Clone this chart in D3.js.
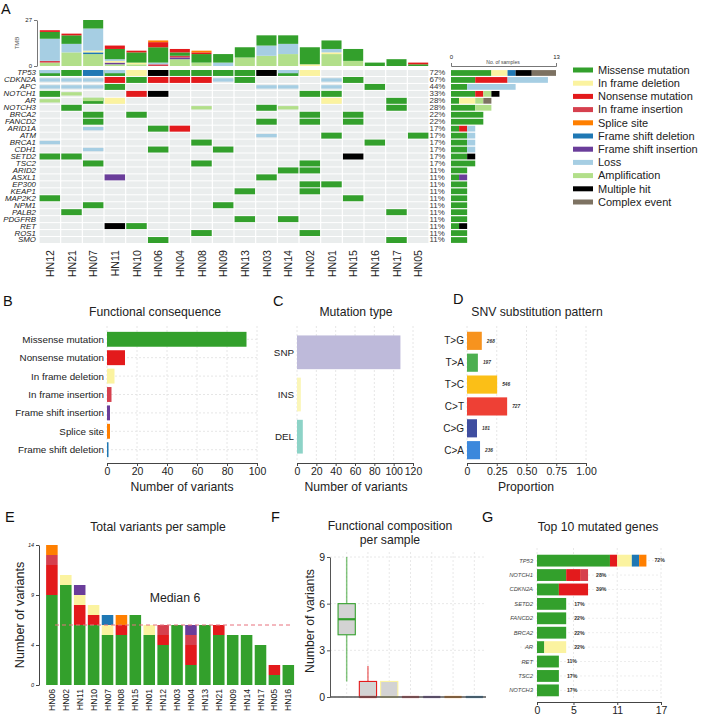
<!DOCTYPE html>
<html><head><meta charset="utf-8">
<script src="https://cdn.jsdelivr.net/npm/d3@7"></script>
<style>
body{margin:0;background:#fff}
svg{display:block}
text{font-family:"Liberation Sans",Arial,Helvetica,sans-serif}
</style>
</head><body>
<svg id="c" width="709" height="723"></svg>
<script>
// ---------------- DATA ----------------
const typeNames = ["Missense mutation","In frame deletion","Nonsense mutation","In frame insertion","Splice site","Frame shift deletion","Frame shift insertion","Loss","Amplification","Multiple hit","Complex event"];
const typeCodes = ["M","D","N","I","S","F","P","L","A","X","C"];
const typeColors = ["#33a02c","#fbf3a0","#e31a1c","#d6404e","#ff7f00","#1f78b4","#6a3d9a","#a6cee3","#b2df8a","#000000","#7d7262"];

// Panel A
const samplesA = ["HN12","HN21","HN07","HN11","HN10","HN06","HN04","HN08","HN09","HN13","HN03","HN14","HN02","HN01","HN15","HN16","HN17","HN05"];
const genesA = ["TP53","CDKN2A","APC","NOTCH1","AR","NOTCH3","BRCA2","FANCD2","ARID1A","ATM","BRCA1","CDH1","SETD2","TSC2","ARID2","ASXL1","EP300","KEAP1","MAP2K2","NPM1","PALB2","PDGFRB","RET","ROS1","SMO"];
const genePct = ["72%","67%","44%","33%","28%","28%","22%","22%","17%","17%","17%","17%","17%","17%","11%","11%","11%","11%","11%","11%","11%","11%","11%","11%","11%"];
const oncoMatrix = [
  "C M F C D X M M M M X C D . . . . .",
  "L L L N M N N N L M . . . L M . . .",
  "L L L M . . . . . . L L . L . M . .",
  "M A . . N X . . . . . . M M . . . .",
  "A . C D . . . . . . . . . D . . M .",
  ". M . . . . . A . . M A . . . . M .",
  ". . M . M . . . . . . . M . M . . .",
  ". . M . . . . . . . M . M . M . . .",
  ". . L . . M N . . . . . . . . . . .",
  ". . . . . . . . . . L . . M . . . M",
  "L . . . . . . M . . . . . . . M . .",
  ". . L . . M . . M . . . . . . . . .",
  "M M . . . . . . . . . . . . X . . .",
  ". . M . . . . M . . . . M . . . . .",
  ". . . . . . . . . . . M M . . . . .",
  ". . . P . . . . . . M . . . . . . .",
  ". . . . . . . . . . . . M M . . . .",
  ". . . . . . . . . M . . M . . . . .",
  "M . . . . . . . . . . . . . M . . .",
  ". . M . . . . . M . . . . . . . . .",
  ". M . . . . . . . . . . . . . . M .",
  ". . . . . . . . . M . M . . . . . .",
  ". . . X M . . . . . . . . . . . . .",
  ". . . . . . . M . . . . M . . . . .",
  ". . . . . M . . . . . . . . . . M ."
];
const tmbKeys = ["Amplification","Frame shift insertion","Frame shift deletion","In frame insertion","In frame deletion","Loss","Missense mutation","Nonsense mutation","Splice site"];
const tmbAmp    = [2,8,7,1,1,0,4,2,0,5,6,7,0,7,3,0,0,0];
const tmbFSI    = [0,0,0,1,0,0,1,0,0,0,0,0,0,0,0,0,0,0];
const tmbFSD    = [0,0,1,0,0,0,0,0,0,0,0,0,0,0,0,0,0,0];
const tmbIFI    = [1,0,0,0,0,1,1,0,0,0,0,0,0,0,0,0,0,0];
const tmbIFD    = [0,0,1,1,1,0,0,0,0,0,0,0,1,1,0,0,0,0];
const tmbLoss   = [13,5,13,1,0,1,0,0,2,0,6,6,0,2,0,0,0,0];
const tmbMis    = [4,5,5,6,6,9,2,5,5,6,6,5,10,5,7,2,4,1];
const tmbNon    = [1,1,0,2,1,3,2,1,0,0,0,0,0,0,0,0,0,1];
const tmbSplice = [0,0,0,0,0,1,0,1,0,0,0,0,0,0,0,0,0,0];
const tmbTicks = [0,27];
const sampleTicks = [0,13];

// Panel B
const funcCats = ["Missense mutation","Nonsense mutation","In frame deletion","In frame insertion","Frame shift insertion","Splice site","Frame shift deletion"];
const funcCounts = [93,12,5,3,2,2,1];
const funcTicks = [0,20,40,60,80,100];

// Panel C
const mutTypes = ["SNP","INS","DEL"];
const mutCounts = [107,4,6];
const mutColors = ["#bebada","#fbf6b8","#8dd3c7"];
const mutTicks = [0,20,40,60,80,100,120];

// Panel D
const snvClasses = ["T>G","T>A","T>C","C>T","C>G","C>A"];
const snvCounts = [268,197,546,727,181,236];
const snvColors = ["#f7931e","#4caf50","#fbbf17","#ee4035","#3f4ea0","#3c88dc"];
const propTicks = [0,0.25,0.5,0.75,1];

// Panel E
const samplesE = ["HN06","HN02","HN11","HN10","HN07","HN08","HN15","HN01","HN12","HN03","HN04","HN13","HN21","HN09","HN14","HN17","HN05","HN16"];
const eKeys = ["Missense mutation","Nonsense mutation","In frame insertion","In frame deletion","Frame shift deletion","Frame shift insertion","Splice site"];
const eMis    = [9,10,6,6,5,5,7,5,4,6,2,6,5,5,5,4,1,2];
const eNon    = [3,0,2,1,0,1,0,0,1,0,2,0,1,0,0,0,1,0];
const eIFI    = [1,0,0,0,0,0,0,0,1,0,1,0,0,0,0,0,0,0];
const eIFD    = [0,1,1,1,1,0,0,1,0,0,0,0,0,0,0,0,0,0];
const eFSD    = [0,0,0,0,1,0,0,0,0,0,0,0,0,0,0,0,0,0];
const eFSI    = [0,0,1,0,0,0,0,0,0,0,1,0,0,0,0,0,0,0];
const eSplice = [1,0,0,0,0,1,0,0,0,0,0,0,0,0,0,0,0,0];
const eTicks = [0,4,9,14];
const eMedian = 6;

// Panel F
const fCats = ["Missense mutation","Nonsense mutation","In frame deletion","In frame insertion","Frame shift insertion","Splice site","Frame shift deletion"];
const fMin = [1,0,0,0,0,0,0];
const fQ1  = [4,0,0,0,0,0,0];
const fMed = [5,0,0,0,0,0,0];
const fQ3  = [6,1,1,0,0,0,0];
const fMax = [9,2,1,0,0,0,0];
const fTicks = [0,3,6,9];

// Panel G
const gGenes = ["TP53","NOTCH1","CDKN2A","SETD2","FANCD2","BRCA2","AR","RET","TSC2","NOTCH3"];
const gKeys = ["Missense mutation","Nonsense mutation","In frame insertion","In frame deletion","Frame shift deletion","Splice site"];
const gMis    = [10,4,3,4,4,4,1,3,3,3];
const gNon    = [1,2,4,0,0,0,0,0,0,0];
const gIFI    = [0,1,0,0,0,0,0,0,0,0];
const gIFD    = [2,0,0,0,0,0,3,0,0,0];
const gFSD    = [1,0,0,0,0,0,0,0,0,0];
const gSplice = [1,0,0,0,0,0,0,0,0,0];
const gPct = ["72%","28%","39%","17%","22%","22%","22%","11%","17%","17%"];
const gTicks = [0,5,11,17];

// ---------------- DRAW ----------------
const color = d3.scaleOrdinal(typeNames, typeColors);
const codeToType = Object.fromEntries(typeCodes.map((c,i)=>[c,typeNames[i]]));
const svg = d3.select("#c");
const TXT = "#222";
const TICK_FS = 10.5, CAT_FS = 9.8, TITLE_FS = 12.2;

function styleAxis(g, fs, col){
  g.selectAll("path.domain").attr("stroke", col||"#444");
  g.selectAll(".tick line").attr("stroke", col||"#444");
  g.selectAll(".tick text").attr("font-size", fs).attr("fill", "#222")
    .attr("font-family","Liberation Sans, Arial, sans-serif");
}
function title(x, y, t, fs){
  svg.append("text").attr("x",x).attr("y",y).attr("text-anchor","middle")
    .attr("font-size",fs||TITLE_FS).attr("fill",TXT).text(t);
}
function stackRows(keys, arrays, ids, idName){
  return ids.map((s,i)=>{const o={}; o[idName]=s; keys.forEach((k,j)=>o[k]=arrays[j][i]); return o;});
}

// Panel letters
[["A",1,14],["B",3,306],["C",273,306],["D",453,304],["E",5,522],["F",271,522],["G",482,522]].forEach(([t,x,y])=>{
  svg.append("text").attr("x",x).attr("y",y).attr("font-size",14.5).attr("fill","#111").text(t);
});

// ===== Panel A =====
const xA = d3.scaleBand().domain(samplesA).range([39,429]);
const yA = d3.scaleBand().domain(genesA).range([69.5,243.5]);
const yT = d3.scaleLinear().domain([0,27]).range([66,20]);
const bwA = xA.bandwidth(), bhA = yA.bandwidth();

const tmbRows = stackRows(tmbKeys,[tmbAmp,tmbFSI,tmbFSD,tmbIFI,tmbIFD,tmbLoss,tmbMis,tmbNon,tmbSplice],samplesA,"s");
const tmbStack = d3.stack().keys(tmbKeys)(tmbRows);
const gT = svg.append("g");
tmbStack.forEach(layer=>{
  gT.selectAll(null).data(layer).join("rect")
    .attr("x",d=>xA(d.data.s)+0.8).attr("width",bwA-1.6)
    .attr("y",d=>yT(d[1])).attr("height",d=>yT(d[0])-yT(d[1]))
    .attr("fill",color(layer.key));
});
const axT = svg.append("g").attr("transform","translate(37,0)")
  .call(d3.axisLeft(yT).tickValues(tmbTicks).tickSize(3).tickSizeOuter(0).tickPadding(2));
styleAxis(axT,6,"#777");
svg.append("text").attr("transform","translate(19,43) rotate(-90)").attr("text-anchor","middle")
  .attr("font-size",6).attr("fill","#555").text("TMB");

const gH = svg.append("g");
genesA.forEach((g,i)=>{
  const codes = oncoMatrix[i].split(" ");
  samplesA.forEach((s,j)=>{
    const x = xA(s)+0.6, w = bwA-1.2, y = yA(g)+0.5, h = bhA-1;
    gH.append("rect").attr("x",x).attr("y",y).attr("width",w).attr("height",h).attr("fill","#eaeded");
    const c = codes[j];
    if(c==="."||!c) return;
    const t = codeToType[c];
    if(c==="L"||c==="A"){
      gH.append("rect").attr("x",x).attr("y",y+h*0.22).attr("width",w).attr("height",h*0.56).attr("fill",color(t));
    } else if(c==="C"){
      gH.append("rect").attr("x",x).attr("y",y).attr("width",w).attr("height",h).attr("fill",color("Missense mutation"));
      gH.append("rect").attr("x",x).attr("y",y).attr("width",w).attr("height",h*0.55).attr("fill",color(i===4?"Amplification":"Loss"));
    } else {
      gH.append("rect").attr("x",x).attr("y",y).attr("width",w).attr("height",h).attr("fill",color(t));
    }
  });
});
// gene labels (font box kept within row pitch, stretched horizontally to the reference width)
svg.append("g").selectAll("text").data(genesA).join("text")
  .attr("transform",d=>`translate(36,${yA(d)+bhA/2}) scale(1.16,1)`).attr("dy","0.36em").attr("text-anchor","end")
  .attr("font-size",6.8).attr("font-style","italic").attr("fill",TXT).text(d=>d);
svg.append("g").selectAll("text").data(genesA).join("text")
  .attr("transform",d=>`translate(429.5,${yA(d)+bhA/2}) scale(1.16,1)`).attr("dy","0.36em")
  .attr("font-size",6.8).attr("fill","#333").text((d,i)=>genePct[i]);
svg.append("g").selectAll("text").data(samplesA).join("text")
  .attr("transform",d=>`translate(${xA(d)+bwA/2+4},250) rotate(-90)`)
  .attr("text-anchor","end").attr("font-size",10.6).attr("fill",TXT).text(d=>d);

const xR = d3.scaleLinear().domain([0,13]).range([451,556]);
const rRows = genesA.map((g,i)=>{
  const codes = oncoMatrix[i].split(" ");
  const o={g};
  typeCodes.forEach((c,k)=>o[typeNames[k]]=codes.filter(v=>v===c).length);
  return o;
});
const rStack = d3.stack().keys(typeNames)(rRows);
const gR = svg.append("g");
rStack.forEach(layer=>{
  gR.selectAll(null).data(layer.filter(d=>d[1]>d[0])).join("rect")
    .attr("x",d=>xR(d[0])).attr("width",d=>xR(d[1])-xR(d[0]))
    .attr("y",d=>yA(d.data.g)+0.6).attr("height",bhA-1.2)
    .attr("fill",color(layer.key));
});
const axR = svg.append("g").attr("transform","translate(0,66)")
  .call(d3.axisTop(xR).tickValues(sampleTicks).tickSize(3).tickSizeOuter(3).tickPadding(4));
styleAxis(axR,6,"#777");
axR.selectAll(".tick line").remove();
svg.append("text").attr("x",503).attr("y",63.5).attr("text-anchor","middle")
  .attr("font-size",5).attr("fill","#444").text("No. of samples");

const gL = svg.append("g");
typeNames.forEach((t,i)=>{
  const y = 70 + i*13.2;
  gL.append("rect").attr("x",573).attr("y",y-2.5).attr("width",20).attr("height",5).attr("fill",color(t));
  gL.append("text").attr("x",598).attr("y",y).attr("dy","0.35em").attr("font-size",11).attr("fill",TXT).text(t);
});

// ===== Panel B =====
const xB = d3.scaleLinear().domain([0,100]).range([107,257]);
const yB = d3.scaleBand().domain(funcCats).range([330,459]).paddingInner(0.19).paddingOuter(0.1);
const gB = svg.append("g");
funcTicks.forEach(t=>gB.append("line").attr("x1",xB(t)).attr("x2",xB(t)).attr("y1",326).attr("y2",462)
  .attr("stroke","#e6e6e6").attr("stroke-dasharray","2,2"));
funcCats.forEach(c=>gB.append("line").attr("x1",107).attr("x2",257).attr("y1",yB(c)+yB.bandwidth()/2).attr("y2",yB(c)+yB.bandwidth()/2)
  .attr("stroke","#e6e6e6").attr("stroke-dasharray","2,2"));
gB.selectAll("rect").data(funcCats).join("rect")
  .attr("x",xB(0)).attr("y",d=>yB(d)).attr("height",yB.bandwidth())
  .attr("width",(d,i)=>xB(funcCounts[i])-xB(0)).attr("fill",d=>color(d));
gB.selectAll("text.lab").data(funcCats).join("text").attr("class","lab")
  .attr("x",104).attr("y",d=>yB(d)+yB.bandwidth()/2).attr("dy","0.35em").attr("text-anchor","end")
  .attr("font-size",CAT_FS).attr("fill",TXT).text(d=>d);
const axB = svg.append("g").attr("transform","translate(0,463)")
  .call(d3.axisBottom(xB).tickValues(funcTicks).tickSize(3).tickSizeOuter(0).tickPadding(2));
styleAxis(axB,TICK_FS);
title(155,316,"Functional consequence");
title(182,491,"Number of variants");

// ===== Panel C =====
const xC = d3.scaleLinear().domain([0,120]).range([297,413]);
const yC = d3.scaleBand().domain(mutTypes).range([327,462]).padding(0.2);
const gC = svg.append("g");
mutTicks.forEach(t=>gC.append("line").attr("x1",xC(t)).attr("x2",xC(t)).attr("y1",326).attr("y2",462)
  .attr("stroke","#e6e6e6").attr("stroke-dasharray","2,2"));
gC.selectAll("rect").data(mutTypes).join("rect")
  .attr("x",xC(0)).attr("y",d=>yC(d)).attr("height",yC.bandwidth())
  .attr("width",(d,i)=>xC(mutCounts[i])-xC(0)).attr("fill",(d,i)=>mutColors[i]);
gC.selectAll("text.lab").data(mutTypes).join("text").attr("class","lab")
  .attr("x",294).attr("y",d=>yC(d)+yC.bandwidth()/2).attr("dy","0.35em").attr("text-anchor","end")
  .attr("font-size",CAT_FS).attr("fill",TXT).text(d=>d);
const axC = svg.append("g").attr("transform","translate(0,463)")
  .call(d3.axisBottom(xC).tickValues(mutTicks).tickSize(3).tickSizeOuter(0).tickPadding(2));
styleAxis(axC,TICK_FS);
title(356,316,"Mutation type");
title(356,491,"Number of variants");

// ===== Panel D =====
const snvTotal = d3.sum(snvCounts);
const xD = d3.scaleLinear().domain([0,1]).range([467,586]);
const yD = d3.scaleBand().domain(snvClasses).range([330,461]).paddingInner(0.17).paddingOuter(0.08);
const gD = svg.append("g");
propTicks.forEach(t=>gD.append("line").attr("x1",xD(t)).attr("x2",xD(t)).attr("y1",326).attr("y2",462)
  .attr("stroke","#e6e6e6").attr("stroke-dasharray","2,2"));
gD.selectAll("rect").data(snvClasses).join("rect")
  .attr("x",xD(0)).attr("y",d=>yD(d)).attr("height",yD.bandwidth())
  .attr("width",(d,i)=>xD(snvCounts[i]/snvTotal)-xD(0)).attr("fill",(d,i)=>snvColors[i]);
gD.selectAll("text.cnt").data(snvClasses).join("text").attr("class","cnt")
  .attr("x",(d,i)=>xD(snvCounts[i]/snvTotal)+5).attr("y",d=>yD(d)+yD.bandwidth()/2).attr("dy","0.35em")
  .attr("font-size",4.8).attr("font-weight","bold").attr("font-style","italic").attr("fill","#333")
  .text((d,i)=>snvCounts[i]);
gD.selectAll("text.lab").data(snvClasses).join("text").attr("class","lab")
  .attr("x",464).attr("y",d=>yD(d)+yD.bandwidth()/2).attr("dy","0.35em").attr("text-anchor","end")
  .attr("font-size",10).attr("fill",TXT).text(d=>d);
const axD = svg.append("g").attr("transform","translate(0,463)")
  .call(d3.axisBottom(xD).tickValues(propTicks).tickFormat(d=>d===0?"0":d.toFixed(2)).tickSize(3).tickSizeOuter(0).tickPadding(2));
styleAxis(axD,TICK_FS);
title(537,316,"SNV substitution pattern");
title(526,491,"Proportion");

// ===== Panel E =====
const xE = d3.scaleBand().domain(samplesE).range([45,295.2]).paddingInner(0.17).paddingOuter(0.08);
const yE = d3.scaleLinear().domain([0,14]).range([685,545]);
const eRows = stackRows(eKeys,[eMis,eNon,eIFI,eIFD,eFSD,eFSI,eSplice],samplesE,"s");
const eStack = d3.stack().keys(eKeys)(eRows);
const gE = svg.append("g");
eStack.forEach(layer=>{
  gE.selectAll(null).data(layer.filter(d=>d[1]>d[0])).join("rect")
    .attr("x",d=>xE(d.data.s)).attr("width",xE.bandwidth())
    .attr("y",d=>yE(d[1])).attr("height",d=>yE(d[0])-yE(d[1]))
    .attr("fill",color(layer.key));
});
gE.append("line").attr("x1",55).attr("x2",293).attr("y1",yE(eMedian)).attr("y2",yE(eMedian))
  .attr("stroke","#e8707c").attr("stroke-width",1).attr("stroke-dasharray","4,3");
svg.append("text").attr("x",175).attr("y",602).attr("text-anchor","middle").attr("font-size",12.3).attr("fill",TXT).text("Median "+eMedian);
const axE = svg.append("g").attr("transform","translate(39,0)")
  .call(d3.axisLeft(yE).tickValues(eTicks).tickSize(3).tickSizeOuter(0).tickPadding(2));
styleAxis(axE,5.5);
axE.selectAll(".tick text").attr("font-style","italic");
svg.append("g").selectAll("text").data(samplesE).join("text")
  .attr("transform",d=>`translate(${xE(d)+xE.bandwidth()/2+3},689) rotate(-90)`)
  .attr("text-anchor","end").attr("font-size",8.6).attr("fill",TXT).text(d=>d);
title(158,531,"Total variants per sample");
svg.append("text").attr("transform","translate(24,615) rotate(-90)").attr("text-anchor","middle")
  .attr("font-size",12.6).attr("fill",TXT).text("Number of variants");

// ===== Panel F =====
const xF = d3.scaleBand().domain(fCats).range([337,484]).paddingInner(0.19).paddingOuter(0.05);
const yF = d3.scaleLinear().domain([0,9]).range([697,557]);
const gF = svg.append("g");
fTicks.forEach(t=>gF.append("line").attr("x1",330).attr("x2",486).attr("y1",yF(t)).attr("y2",yF(t))
  .attr("stroke","#e8e8e8").attr("stroke-dasharray","2,2"));
fCats.forEach(c=>gF.append("line").attr("x1",xF(c)+xF.bandwidth()/2).attr("x2",xF(c)+xF.bandwidth()/2).attr("y1",552).attr("y2",697)
  .attr("stroke","#e8e8e8").attr("stroke-dasharray","2,2"));
svg.append("line").attr("x1",330).attr("x2",486).attr("y1",yF(0)).attr("y2",yF(0)).attr("stroke","#555").attr("stroke-width",1.3);
fCats.forEach((c,i)=>{
  const x0 = xF(c), w = xF.bandwidth(), cx = x0+w/2, col = color(c);
  if(fMax[i]>fQ3[i]) gF.append("line").attr("x1",cx).attr("x2",cx).attr("y1",yF(fQ3[i])).attr("y2",yF(fMax[i])).attr("stroke",col).attr("stroke-opacity",0.6).attr("stroke-width",1.5);
  if(fMin[i]<fQ1[i]) gF.append("line").attr("x1",cx).attr("x2",cx).attr("y1",yF(fMin[i])).attr("y2",yF(fQ1[i])).attr("stroke",col).attr("stroke-opacity",0.6).attr("stroke-width",1.5);
  if(fQ3[i]>fQ1[i]){
    gF.append("rect").attr("x",x0).attr("width",w).attr("y",yF(fQ3[i])).attr("height",yF(fQ1[i])-yF(fQ3[i]))
      .attr("fill","#d3d3d3").attr("stroke",col).attr("stroke-width",1.1);
  }
  gF.append("line").attr("x1",x0).attr("x2",x0+w).attr("y1",yF(fMed[i])).attr("y2",yF(fMed[i])).attr("stroke",col).attr("stroke-width",2.2);
});
const axF = svg.append("g").attr("transform","translate(330,0)")
  .call(d3.axisLeft(yF).tickValues(fTicks).tickSize(3).tickSizeOuter(0).tickPadding(2));
styleAxis(axF,TICK_FS,"#555");
title(390,530,"Functional composition");
title(390,544,"per sample");
svg.append("text").attr("transform","translate(314,621) rotate(-90)").attr("text-anchor","middle")
  .attr("font-size",12.3).attr("fill",TXT).text("Number of variants");

// ===== Panel G =====
const xG = d3.scaleLinear().domain([0,17]).range([537,661]);
const yG = d3.scaleBand().domain(gGenes).range([554,697]).paddingInner(0.18).paddingOuter(0.05);
const gG = svg.append("g");
gTicks.forEach(t=>gG.append("line").attr("x1",xG(t)).attr("x2",xG(t)).attr("y1",548).attr("y2",700)
  .attr("stroke","#e8e8e8").attr("stroke-dasharray","2,2"));
gGenes.forEach(gn=>gG.append("line").attr("x1",520).attr("x2",661).attr("y1",yG(gn)+yG.bandwidth()/2).attr("y2",yG(gn)+yG.bandwidth()/2)
  .attr("stroke","#ededed").attr("stroke-dasharray","2,2"));
const gRows = stackRows(gKeys,[gMis,gNon,gIFI,gIFD,gFSD,gSplice],gGenes,"g");
const gStack = d3.stack().keys(gKeys)(gRows);
gStack.forEach(layer=>{
  gG.selectAll(null).data(layer.filter(d=>d[1]>d[0])).join("rect")
    .attr("x",d=>xG(d[0])).attr("width",d=>xG(d[1])-xG(d[0]))
    .attr("y",d=>yG(d.data.g)).attr("height",yG.bandwidth())
    .attr("fill",color(layer.key));
});
const gTot = gGenes.map((g,i)=>gMis[i]+gNon[i]+gIFI[i]+gIFD[i]+gFSD[i]+gSplice[i]);
gG.selectAll("text.pct").data(gGenes).join("text").attr("class","pct")
  .attr("x",(d,i)=>xG(gTot[i])+8).attr("y",d=>yG(d)+yG.bandwidth()/2).attr("dy","0.35em")
  .attr("font-size",5.2).attr("font-weight","bold").attr("fill","#333").text((d,i)=>gPct[i]);
gG.selectAll("text.lab").data(gGenes).join("text").attr("class","lab")
  .attr("x",533).attr("y",d=>yG(d)+yG.bandwidth()/2).attr("dy","0.35em").attr("text-anchor","end")
  .attr("font-size",5.8).attr("font-style","italic").attr("fill","#444").text(d=>d);
const axG = svg.append("g").attr("transform","translate(0,702)")
  .call(d3.axisBottom(xG).tickValues(gTicks).tickSize(3).tickSizeOuter(0).tickPadding(2));
styleAxis(axG,TICK_FS);
title(598,531,"Top 10 mutated genes");
</script>
</body></html>
